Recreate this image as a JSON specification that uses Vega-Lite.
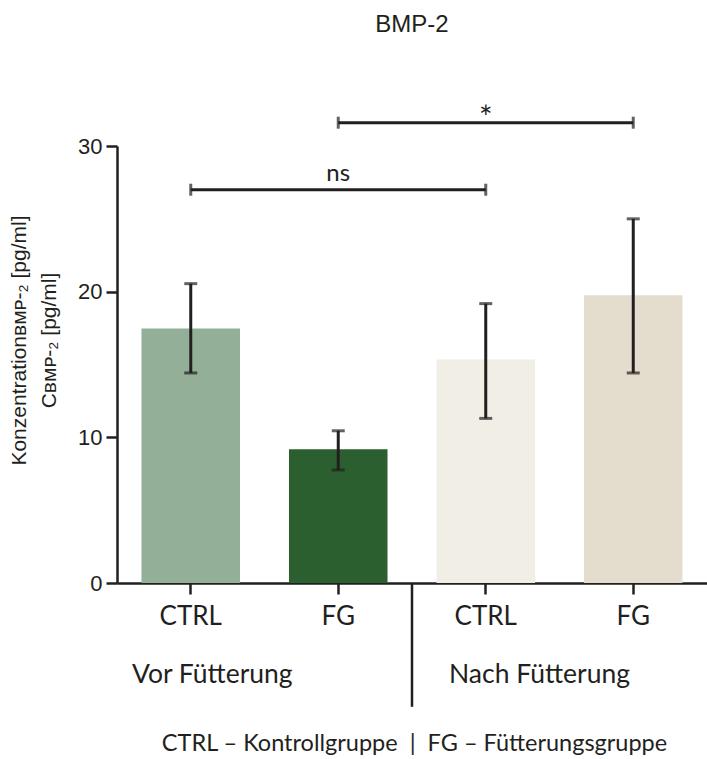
{
  "$schema": "https://vega.github.io/schema/vega-lite/v6.json",
  "width": 590,
  "height": 437,
  "autosize": {"type": "none"},
  "padding": {"left": 117, "top": 146, "right": 0, "bottom": 176},
  "background": "white",
  "title": {"text": "BMP-2", "font": "Liberation Sans", "fontSize": 24, "fontWeight": "normal", "color": "#231F20", "anchor": "middle", "frame": "group", "baseline": "alphabetic", "offset": 47},
  "config": {"view": {"stroke": null}},
  "datasets": {
    "bars": [
      {"key": "Vor CTRL", "mean": 17.47, "lo": 14.42, "hi": 20.55},
      {"key": "Vor FG", "mean": 9.18, "lo": 7.76, "hi": 10.45},
      {"key": "Nach CTRL", "mean": 15.34, "lo": 11.3, "hi": 19.18},
      {"key": "Nach FG", "mean": 19.75, "lo": 14.42, "hi": 25.0}
    ],
    "brackets": [
      {"from": "Vor CTRL", "to": "Nach CTRL", "mid": "Vor FG", "y": 27.0, "label": "ns"},
      {"from": "Vor FG", "to": "Nach FG", "mid": "Nach CTRL", "y": 31.6, "label": "*"}
    ],
    "groups": [
      {"group": "Vor Fütterung", "first": "Vor CTRL"},
      {"group": "Nach Fütterung", "first": "Nach CTRL"}
    ]
  },
  "layer": [
    {
      "data": {"name": "bars"},
      "mark": {"type": "bar", "width": {"band": 0.668}},
      "encoding": {
        "x": {
          "field": "key", "type": "nominal", "sort": null,
          "scale": {"domain": ["Vor CTRL", "Vor FG", "Nach CTRL", "Nach FG"], "paddingInner": 0, "paddingOuter": 0},
          "axis": {
            "title": "CTRL – Kontrollgruppe\u00a0\u00a0|\u00a0\u00a0FG – Fütterungsgruppe",
            "titleFont": "Lato", "titleFontSize": 23.5, "titleFontWeight": "normal", "titleColor": "#231F20",
            "titleX": 297, "titleY": 167, "titleAlign": "center", "titleBaseline": "alphabetic", "titleAnchor": null,
            "labelExpr": "split(datum.value, ' ')[1]", "labelAngle": 0,
            "labelFont": "Lato", "labelFontSize": 26, "labelColor": "#231F20", "labelPadding": 9,
            "tickSize": 11, "tickWidth": 2.5, "tickColor": "#231F20",
            "domainColor": "#231F20", "domainWidth": 2.5
          }
        },
        "y": {
          "field": "mean", "type": "quantitative",
          "scale": {"domain": [0, 30], "nice": false, "zero": true},
          "axis": {
            "title": ["Konzentrationʙᴍᴘ-₂ [pg/ml]", "Cʙᴍᴘ-₂ [pg/ml]"],
            "titleFont": "Liberation Sans", "titleFontSize": 21, "titleFontWeight": "normal", "titleColor": "#231F20",
            "titleAngle": -90, "titleX": -92, "titleY": 194, "titleAlign": "center", "titleBaseline": "alphabetic", "titleLineHeight": 30,
            "values": [0, 10, 20, 30], "grid": false,
            "labelFont": "Liberation Sans", "labelFontSize": 22, "labelColor": "#231F20", "labelPadding": 4,
            "tickSize": 11, "tickWidth": 2.5, "tickColor": "#231F20",
            "domainColor": "#231F20", "domainWidth": 2.5
          }
        },
        "color": {
          "field": "key", "type": "nominal",
          "scale": {"domain": ["Vor CTRL", "Vor FG", "Nach CTRL", "Nach FG"], "range": ["#93AF98", "#2C5F30", "#F1EEE6", "#E4DDCE"]},
          "legend": null
        }
      }
    },
    {
      "data": {"name": "bars"},
      "mark": {"type": "rule", "strokeWidth": 3, "color": "#231F20"},
      "encoding": {
        "x": {"field": "key", "type": "nominal"},
        "y": {"field": "lo", "type": "quantitative"},
        "y2": {"field": "hi"}
      }
    },
    {
      "data": {"name": "bars"},
      "mark": {"type": "tick", "thickness": 3, "size": 13, "color": "#231F20"},
      "encoding": {
        "x": {"field": "key", "type": "nominal"},
        "y": {"field": "lo", "type": "quantitative"}
      }
    },
    {
      "data": {"name": "bars"},
      "mark": {"type": "tick", "thickness": 3, "size": 13, "color": "#231F20"},
      "encoding": {
        "x": {"field": "key", "type": "nominal"},
        "y": {"field": "hi", "type": "quantitative"}
      }
    },
    {
      "data": {"name": "brackets"},
      "mark": {"type": "rule", "strokeWidth": 3, "color": "#231F20"},
      "encoding": {
        "x": {"field": "from", "type": "nominal"},
        "x2": {"field": "to"},
        "y": {"field": "y", "type": "quantitative"}
      }
    },
    {
      "data": {"name": "brackets"},
      "transform": [{"fold": ["from", "to"], "as": ["end", "cat"]}],
      "mark": {"type": "tick", "orient": "vertical", "thickness": 3, "size": 12, "color": "#231F20"},
      "encoding": {
        "x": {"field": "cat", "type": "nominal"},
        "y": {"field": "y", "type": "quantitative"}
      }
    },
    {
      "data": {"name": "brackets"},
      "transform": [{"filter": "datum.label === 'ns'"}],
      "mark": {"type": "text", "font": "Lato", "fontSize": 24, "color": "#231F20", "baseline": "alphabetic", "align": "center", "dy": -9},
      "encoding": {
        "x": {"field": "mid", "type": "nominal"},
        "y": {"field": "y", "type": "quantitative"},
        "text": {"field": "label"}
      }
    },
    {
      "data": {"name": "brackets"},
      "transform": [{"filter": "datum.label === '*'"}],
      "mark": {"type": "text", "font": "Lato", "fontSize": 32, "color": "#231F20", "baseline": "alphabetic", "align": "center", "dy": 6},
      "encoding": {
        "x": {"field": "mid", "type": "nominal"},
        "y": {"field": "y", "type": "quantitative"},
        "text": {"field": "label"}
      }
    },
    {
      "data": {"values": [{}]},
      "mark": {"type": "rule", "strokeWidth": 2.5, "color": "#231F20"},
      "encoding": {
        "x": {"datum": "Nach CTRL", "type": "nominal", "bandPosition": 0},
        "y": {"datum": 0, "type": "quantitative"},
        "y2": {"datum": -8.5}
      }
    },
    {
      "data": {"name": "groups"},
      "transform": [{"filter": "datum.group === 'Vor Fütterung'"}],
      "mark": {"type": "text", "font": "Lato", "fontSize": 26.5, "color": "#231F20", "baseline": "alphabetic", "align": "left", "dx": 15},
      "encoding": {
        "x": {"field": "first", "type": "nominal", "bandPosition": 0},
        "y": {"datum": -6.84, "type": "quantitative"},
        "text": {"field": "group"}
      }
    },
    {
      "data": {"name": "groups"},
      "transform": [{"filter": "datum.group === 'Nach Fütterung'"}],
      "mark": {"type": "text", "font": "Lato", "fontSize": 26.5, "color": "#231F20", "baseline": "alphabetic", "align": "left", "dx": 37},
      "encoding": {
        "x": {"field": "first", "type": "nominal", "bandPosition": 0},
        "y": {"datum": -6.84, "type": "quantitative"},
        "text": {"field": "group"}
      }
    }
  ]
}
